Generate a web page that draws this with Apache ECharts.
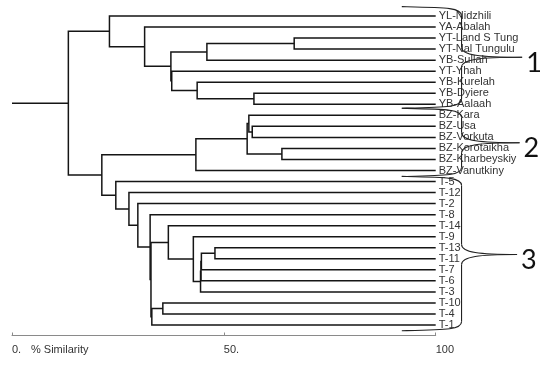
<!DOCTYPE html>
<html>
<head>
<meta charset="utf-8">
<script src="https://cdn.jsdelivr.net/npm/echarts@6/dist/echarts.min.js"></script>
<style>
html,body{margin:0;padding:0;background:#fff;}
#chart{width:550px;height:366px;}
</style>
</head>
<body>
<div id="chart"></div>
<script>
// Leaves, top to bottom
const leafNames = ['YL-Nidzhili','YA-Abalah','YT-Land S Tungu','YT-Nal Tungulu','YB-Sullah','YT-Yhah','YB-Kurelah','YB-Dyiere','YB-Aalaah','BZ-Kara','BZ-Usa','BZ-Vorkuta','BZ-Korotaikha','BZ-Kharbeyskiye','BZ-Vanutkiny','T-5','T-12','T-2','T-8','T-14','T-9','T-13','T-11','T-7','T-6','T-3','T-10','T-4','T-1'];

// Merges (mN refers to merge N), joined at % similarity
const mergeLeft  = ['YT-Land S Tungu','m0','YB-Dyiere','YB-Kurelah','YT-Yhah','m1','YA-Abalah','YL-Nidzhili','BZ-Usa','BZ-Kara','BZ-Korotaikha','m9','m11','T-13','m13','m14','m15','T-9','T-14','T-10','m19','m18','T-8','T-2','T-12','T-5','m12','m7'];
const mergeRight = ['YT-Nal Tungulu','YB-Sullah','YB-Aalaah','m2','m3','m4','m5','m6','BZ-Vorkuta','m8','BZ-Kharbeyskiye','m10','BZ-Vanutkiny','T-11','T-7','T-6','T-3','m16','m17','T-4','T-1','m20','m21','m22','m23','m24','m25','m26'];
const mergeSim   = [66.6,46.0,57.1,43.7,37.7,37.5,31.3,23.0,56.7,55.9,63.7,55.5,43.4,47.9,44.7,44.6,44.5,42.8,36.9,35.6,33.0,32.8,32.6,29.7,27.6,24.5,21.2,13.3];

const leafSim = 100;
const rootStart = 0;

// x axis ticks
const tickValues = [0, 50, 100];
const tickLabels = ['0.', '50.', '100'];

// Group annotation braces (in leaf-index units) and labels
const braceFrom  = [-0.85, 8.36, 14.53];
const braceTo    = [8.36, 14.55, 28.52];
const braceTip   = [3.74, 11.48, 21.61];
const braceLabels = ['1', '2', '3'];

// ---- build dendrogram link polylines ----
function pos(ref, nodes) {
  const m = /^m(\d+)$/.exec(ref);
  if (m) return nodes[+m[1]];
  return { x: leafSim, y: leafNames.indexOf(ref) };
}
const nodes = [];
const links = [];
for (let k = 0; k < mergeSim.length; k++) {
  const a = pos(mergeLeft[k], nodes), b = pos(mergeRight[k], nodes);
  const s = mergeSim[k];
  links.push({ coords: [[a.x, a.y], [s, a.y], [s, b.y], [b.x, b.y]] });
  nodes.push({ x: s, y: (a.y + b.y) / 2 });
}
const root = nodes[nodes.length - 1];
links.push({ coords: [[rootStart, root.y], [root.x, root.y]] });

const chart = echarts.init(document.getElementById('chart'), null, { renderer: 'canvas' });
const font = '"Liberation Sans", Arial, sans-serif';

chart.setOption({
  animation: false,
  backgroundColor: '#fff',
  grid: { left: 12, right: 114.3, top: 10.5, height: 320, containLabel: false },
  xAxis: {
    type: 'value', min: 0, max: 100, interval: 50, offset: 5, position: 'bottom',
    axisLine: { show: true, onZero: false, lineStyle: { color: '#8a8a8a', width: 1 } },
    axisTick: { show: true, inside: true, length: 3, lineStyle: { color: '#8a8a8a' } },
    splitLine: { show: false },
    axisLabel: {
      margin: 8.5, align: 'left', color: '#333', fontFamily: font, fontSize: 11,
      formatter: v => { const i = tickValues.indexOf(v); return i >= 0 ? tickLabels[i] : ''; }
    },
    name: '% Similarity', nameLocation: 'start', nameGap: -19,
    nameTextStyle: { align: 'left', verticalAlign: 'top', padding: [9, 0, 0, 0], color: '#333', fontFamily: font, fontSize: 11 }
  },
  yAxis: [
    { type: 'value', min: -0.5, max: 28.5, inverse: true, show: false },
    {
      type: 'category', data: leafNames, inverse: true, position: 'right',
      axisLine: { show: false }, axisTick: { show: false }, splitLine: { show: false },
      axisLabel: {
        margin: 3, color: '#333', fontFamily: font, fontSize: 11, interval: 0,
        width: 82, overflow: 'truncate', ellipsis: ''
      }
    }
  ],
  series: [{
    type: 'lines', coordinateSystem: 'cartesian2d', xAxisIndex: 0, yAxisIndex: 0,
    polyline: true, silent: true,
    lineStyle: { color: '#151515', width: 1.5, opacity: 1 },
    data: links
  }]
});

// ---- braces as annotation ----
const gfx = [];
const braceX0 = 92, braceXV = 106.1, braceXT = 120.4;
const stroke = { fill: null, stroke: '#222', lineWidth: 1.1 };
function bez(x1, y1, c1x, c1y, c2x, c2y, x2, y2) {
  gfx.push({ type: 'bezierCurve', z: 100, silent: true,
    shape: { x1, y1, x2, y2, cpx1: c1x, cpy1: c1y, cpx2: c2x, cpy2: c2y }, style: stroke });
}
function seg(x1, y1, x2, y2) {
  gfx.push({ type: 'line', z: 100, silent: true, shape: { x1, y1, x2, y2 }, style: stroke });
}
for (let i = 0; i < braceLabels.length; i++) {
  const p = (x, y) => chart.convertToPixel({ seriesIndex: 0 }, [x, y]);
  const [xs, yt] = p(braceX0, braceFrom[i]);
  const [xv, yb] = p(braceXV, braceTo[i]);
  const [xt, yp] = p(braceXT - (i === 2 ? 1.2 : (i === 1 ? 0.6 : 0)), braceTip[i]);
  bez(xs, yt, xs + 45, yt + 1, xv, yt + 1, xv, yt + 9);
  seg(xv, yt + 9, xv, yp - 10);
  bez(xv, yp - 10, xv, yp - 2, xv + 18, yp, xt, yp);
  bez(xt, yp, xv + 18, yp, xv, yp + 2, xv, yp + 10);
  seg(xv, yp + 10, xv, yb - 9);
  bez(xv, yb - 9, xv, yb - 1, xs + 45, yb - 1, xs, yb);
  gfx.push({
    type: 'text', x: xt + 4, y: yp + 6, z: 100,
    style: { text: braceLabels[i], fill: '#111', font: '27px Lato, "Open Sans", sans-serif', align: 'left', verticalAlign: 'middle' }
  });
}
chart.setOption({ graphic: gfx });
</script>
</body>
</html>
